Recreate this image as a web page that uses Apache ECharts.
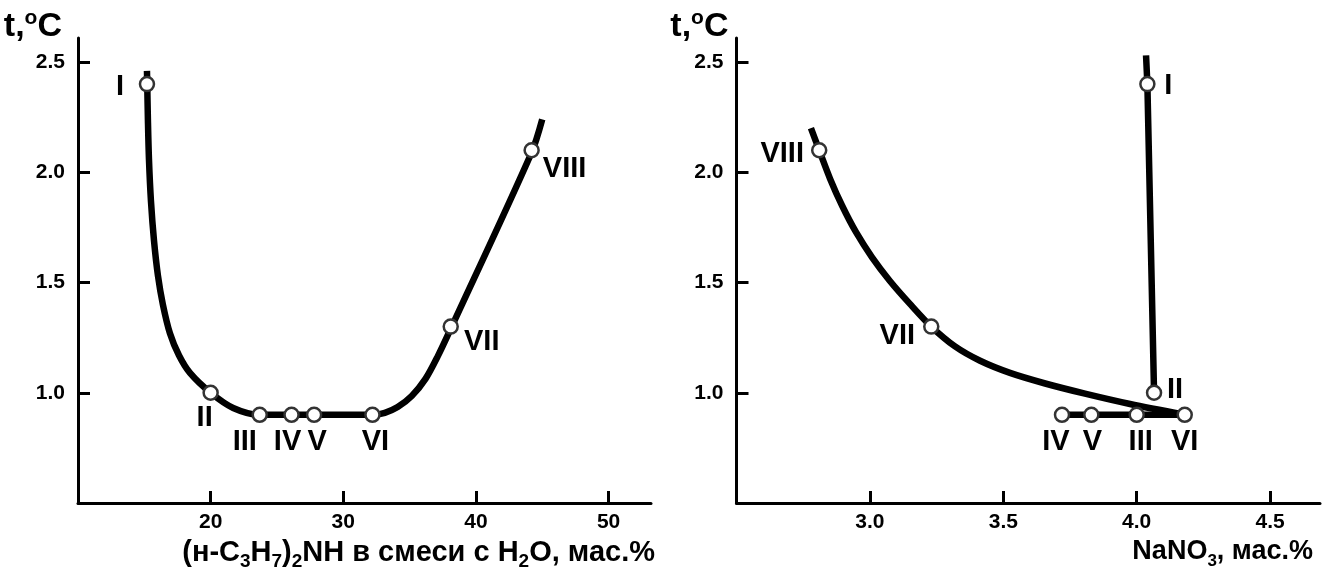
<!DOCTYPE html>
<html>
<head>
<meta charset="utf-8">
<script src="https://cdn.jsdelivr.net/npm/echarts@6/dist/echarts.min.js"></script>
<style>html,body{margin:0;padding:0;background:#fff;}#c{width:1325px;height:576px;}</style>
</head>
<body>
<div id="c"></div>
<script>
// ---------- data ----------
const pointNames = ['I', 'II', 'III', 'IV', 'V', 'VI', 'VII', 'VIII'];

// left panel: (n-C3H7)2NH in mixture with H2O, wt.%  vs t
const leftPointX = [15.2, 20.0, 23.7, 26.1, 27.8, 32.2, 38.1, 44.2];
const leftPointY = [2.40, 1.00, 0.90, 0.90, 0.90, 0.90, 1.30, 2.10];
const leftCurve = [
  [15.20, 2.46], [15.22, 2.40], [15.27, 2.24], [15.35, 2.06], [15.50, 1.87],
  [15.73, 1.69], [16.03, 1.53], [16.40, 1.40], [16.93, 1.27], [17.61, 1.17],
  [18.44, 1.09], [20.0, 1.00], [21.7, 0.931], [23.7, 0.90],
  [26.1, 0.90], [27.8, 0.90], [32.2, 0.90], [33.13, 0.909], [34.1, 0.935],
  [35.16, 0.985], [36.21, 1.064], [37.12, 1.165], [38.1, 1.29], [44.2, 2.09], [45.0, 2.24]
];

// right panel: NaNO3, wt.% vs t
const rightPointX = [4.04, 4.065, 4.00, 3.72, 3.83, 4.18, 3.23, 2.81];
const rightPointY = [2.40, 1.00, 0.90, 0.90, 0.90, 0.90, 1.30, 2.10];
const rightBranchI = [[4.035, 2.53], [4.04, 2.40], [4.065, 1.00]];
const rightCurve = [
  [2.779, 2.20], [2.81, 2.10], [2.851, 1.970], [2.896, 1.848], [2.948, 1.728],
  [3.008, 1.614], [3.075, 1.507], [3.150, 1.403], [3.23, 1.30], [3.319, 1.210],
  [3.413, 1.145], [3.525, 1.090], [3.657, 1.042], [3.806, 0.996], [3.975, 0.949], [4.18, 0.90]
];
const rightFlat = [[3.72, 0.90], [4.18, 0.90]];

// tick labels
const leftXTicks = [20, 30, 40, 50];
const rightXTicks = [3.0, 3.5, 4.0, 4.5];
const yTicks = [1.0, 1.5, 2.0, 2.5];

// ---------- styling (label offsets in px) ----------
const leftLabelOffsets = [[-27, 3], [-6, 25], [-15, 27], [-4, 27], [3, 27], [3, 27], [31, 15], [33, 19]];
const rightLabelOffsets = [[21, 2], [21, -3], [4, 27], [-6, 27], [1, 27], [0, 27], [-34, 9], [-37, 4]];

const FONT = '"Liberation Sans", Arial, Helvetica, sans-serif';
const axisLineStyle = { color: '#000', width: 3 };

function xAxisCfg(grid, min, max, ticks, fmt, name, nameSize, gap) {
  return {
    gridIndex: grid, type: 'value', min: min, max: max,
    axisLine: { show: true, onZero: false, lineStyle: axisLineStyle },
    axisTick: { show: true, inside: true, length: 12, lineStyle: { color: '#000', width: 3 }, customValues: ticks },
    axisLabel: { customValues: ticks, formatter: fmt, color: '#000', fontSize: 21, fontWeight: 'bold', fontFamily: FONT, margin: 9 },
    splitLine: { show: false },
    name: name, nameLocation: 'end', nameGap: gap,
    nameTextStyle: {
      align: 'right', verticalAlign: 'top', padding: [35, 0, 0, 0],
      color: '#000', fontSize: nameSize, fontWeight: 'bold', fontFamily: FONT,
      rich: {
        n: { fontSize: nameSize, fontWeight: 'bold', fontFamily: FONT, color: '#000', lineHeight: 31, verticalAlign: 'top' },
        s: { fontSize: Math.round(nameSize * 0.64), fontWeight: 'bold', fontFamily: FONT, color: '#000', lineHeight: 20, padding: [16, 0, 0, 0] }
      }
    }
  };
}
function yAxisCfg(grid, padRight) {
  return {
    gridIndex: grid, type: 'value', min: 0.5, max: 2.609,
    axisLine: { show: true, onZero: false, lineStyle: axisLineStyle },
    axisTick: { show: true, inside: true, length: 12, lineStyle: { color: '#000', width: 3 }, customValues: yTicks },
    axisLabel: { customValues: yTicks, formatter: v => v.toFixed(1), color: '#000', fontSize: 21, fontWeight: 'bold', fontFamily: FONT, margin: 13 },
    splitLine: { show: false },
    name: '{a|t,}{o|o}{a|C}', nameLocation: 'end', nameGap: 12,
    nameTextStyle: {
      align: 'right', verticalAlign: 'middle', padding: [0, padRight, 0, 0],
      rich: {
        a: { fontSize: 34, fontWeight: 'bold', fontFamily: FONT, color: '#000', lineHeight: 36, verticalAlign: 'bottom' },
        o: { fontSize: 21, fontWeight: 'bold', fontFamily: FONT, color: '#000', lineHeight: 22, verticalAlign: 'top' }
      }
    }
  };
}
function lineSeries(axis, data, smooth) {
  return {
    type: 'line', xAxisIndex: axis, yAxisIndex: axis, data: data, smooth: smooth,
    showSymbol: false, symbol: 'none', lineStyle: { color: '#000', width: 6.5, join: 'round', cap: 'butt' }, z: 2, silent: true
  };
}
function pointSeries(axis, xs, ys, offsets) {
  return {
    type: 'scatter', xAxisIndex: axis, yAxisIndex: axis, z: 5,
    symbol: 'circle', symbolSize: 14,
    itemStyle: { color: '#fff', borderColor: '#333', borderWidth: 2.5, opacity: 1 },
    data: xs.map((x, i) => ({
      value: [x, ys[i]], name: pointNames[i],
      label: { offset: offsets[i] }
    })),
    label: {
      show: true, position: 'inside', formatter: p => p.name,
      color: '#000', fontSize: 29, fontWeight: 'bold', fontFamily: FONT
    }
  };
}

const option = {
  animation: false,
  backgroundColor: '#fff',
  grid: [
    { left: 78, top: 38, width: 573, height: 465 },
    { left: 736.5, top: 38, width: 583.5, height: 465 }
  ],
  xAxis: [
    xAxisCfg(0, 10, 53.2, leftXTicks, v => String(v),
      '{n|(н-C}{s|3}{n|H}{s|7}{n|)}{s|2}{n|NH в смеси с H}{s|2}{n|O, мас.%}', 29, 4),
    xAxisCfg(1, 2.5, 4.687, rightXTicks, v => v.toFixed(1),
      '{n|NaNO}{s|3}{n|, мас.%}', 27, -7)
  ],
  yAxis: [yAxisCfg(0, 16), yAxisCfg(1, 8)],
  series: [
    lineSeries(0, leftCurve, 0.3),
    lineSeries(1, rightBranchI, false),
    lineSeries(1, rightCurve, 0.3),
    lineSeries(1, rightFlat, false),
    pointSeries(0, leftPointX, leftPointY, leftLabelOffsets),
    pointSeries(1, rightPointX, rightPointY, rightLabelOffsets)
  ]
};
const chart = echarts.init(document.getElementById('c'), null, { renderer: 'canvas' });
chart.setOption(option);
</script>
</body>
</html>
